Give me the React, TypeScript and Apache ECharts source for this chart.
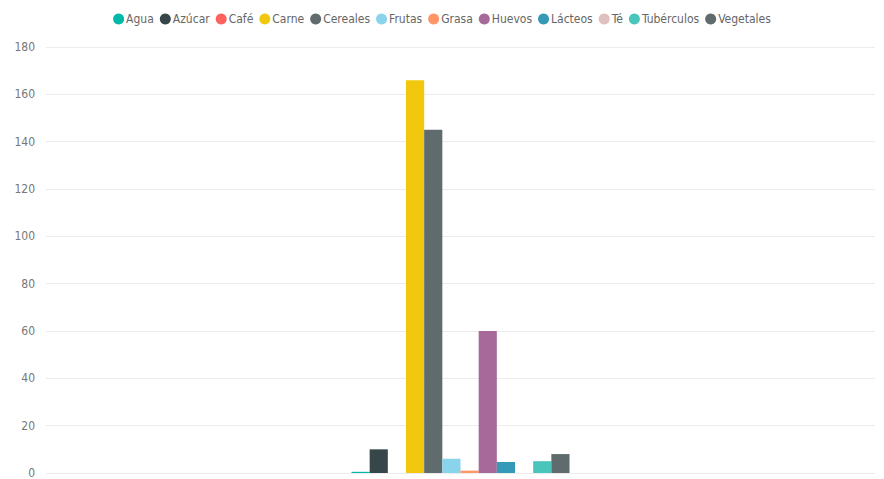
import React, { useEffect, useRef } from "react";
import * as echarts from "echarts";

const seriesNames = ["Agua", "Azúcar", "Café", "Carne", "Cereales", "Frutas", "Grasa", "Huevos", "Lácteos", "Té", "Tubérculos", "Vegetales"];
const seriesValues = [0.5, 10, 0, 166, 145, 6, 1, 60, 4.6, 0, 5, 8];
const seriesColors = ["#01B8AA", "#374649", "#FD625E", "#F2C80F", "#5F6B6D", "#8AD4EB", "#FE9666", "#A66999", "#3599B8", "#DFBFBF", "#4AC5BB", "#5F6B6D"];
const categories = [""];
const yTicks = { min: 0, max: 180, interval: 20 };

export default function App() {
  const ref = useRef<HTMLDivElement>(null);
  useEffect(() => {
    document.body.style.margin = "0";
    const chart = echarts.init(ref.current!, null, { renderer: "svg" });
    chart.setOption({
      animation: false,
      textStyle: { fontFamily: "'DejaVu Sans Condensed', 'Liberation Sans Narrow', sans-serif" },
      legend: {
        top: 8,
        left: "center",
        icon: "circle",
        itemWidth: 11,
        itemHeight: 11,
        itemGap: 6,
        textStyle: { color: "#666", fontSize: 12, fontFamily: "'DejaVu Sans Condensed', sans-serif", padding: [0, 0, 0, -3] },
        data: seriesNames,
      },
      grid: { left: 46, right: 9, top: 47, bottom: 3, containLabel: false },
      xAxis: {
        type: "category",
        data: categories,
        axisLine: { show: false },
        axisTick: { show: false },
        axisLabel: { show: false },
      },
      yAxis: {
        type: "value",
        min: yTicks.min,
        max: yTicks.max,
        interval: yTicks.interval,
        axisLine: { show: false },
        axisTick: { show: false },
        axisLabel: { color: "#777", fontSize: 12, margin: 11 },
        splitLine: { lineStyle: { color: "#ececec", width: 1 } },
      },
      series: seriesNames.map((name, i) => ({
        name,
        type: "bar",
        data: [seriesValues[i]],
        itemStyle: { color: seriesColors[i] },
        barGap: "0%",
        barCategoryGap: "73.7%",
      })),
    });
    return () => chart.dispose();
  }, []);
  return <div ref={ref} style={{ width: 884, height: 479 }} />;
}
